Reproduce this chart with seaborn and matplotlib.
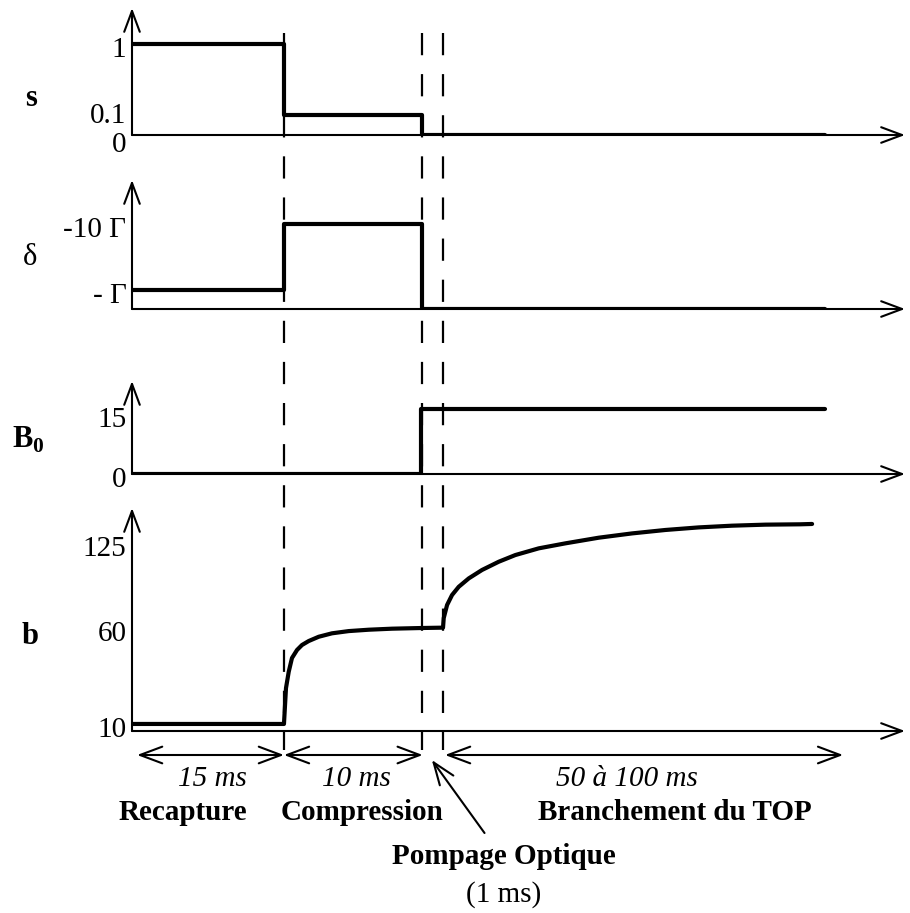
import numpy as np
import pandas as pd
import matplotlib
matplotlib.use("Agg")
import matplotlib.pyplot as plt
import matplotlib.transforms as mtransforms
import seaborn as sns

sns.set_theme(style="white")
plt.rcParams['font.family'] = ['Liberation Serif', 'DejaVu Serif']
plt.rcParams['mathtext.fontset'] = 'custom'
plt.rcParams['mathtext.rm'] = 'Liberation Serif'
plt.rcParams['mathtext.bf'] = 'Liberation Serif:bold'
plt.rcParams['text.color'] = 'black'
plt.rcParams['ytick.color'] = 'black'
plt.rcParams['axes.labelcolor'] = 'black'

# Echelle de temps schématique (unités du dessin, pas proportionnelles aux ms)
t_events = [15, 28.63, 30.7]     # compression, pompage optique, branchement du TOP
t_end = 68.4                     # fin des tracés
t_axis = 76.3                    # bout des flèches de l'axe des temps

# s : paramètre de saturation
s_t = [0, 15, 15, 28.63, 28.63, t_end]
s_val = [1.0, 1.0, 0.22, 0.22, 0.0, 0.0]
s_ticks = [0, 0.27, 1.0]
s_labels = ['0', '0.1', '1']

# delta : désaccord (hauteur schématique, en unités de Γ)
d_t = [0, 15, 15, 28.63, 28.63, t_end]
d_val = [2.24, 2.24, 10, 10, 0, 0]
d_ticks = [2.24, 10]
d_labels = ['- Γ', '-10 Γ']

# B0 : gradient de champ
B_t = [0, 28.5, 28.5, t_end]
B_val = [0, 0, 15, 15]
B_ticks = [0, 13.9]
B_labels = ['0', '15']

# b : paramètre du piège (courbe)
b_t = [0, 15.0, 15.2, 15.47, 15.79, 16.29, 16.78, 17.44, 18.43, 19.74, 21.39, 23.37,
       25.67, 28.63, 30.7, 30.77, 31.1, 31.59, 32.25, 33.24, 34.55, 36.2, 37.84,
       40.15, 42.77, 46.07, 49.36, 52.65, 55.94, 59.23, 62.52, 65.94, 67.13]
b_val = [4.1, 4.1, 25.0, 34.5, 42.5, 47.2, 50.1, 52.4, 54.9, 56.9, 58.2, 59.0,
         59.6, 60.0, 60.2, 65.8, 73.4, 79.2, 84.0, 88.9, 93.8, 98.6, 102.5,
         106.4, 109.3, 112.6, 115.1, 117.1, 118.6, 119.6, 120.2, 120.4, 120.6]
b_ticks = [4.1, 60, 109.5]
b_labels = ['10', '60', '125']

# durées des phases
phases = [(0.5, 15.0, '15 ms', 'Recapture', 7.9, 5.0),
          (15.0, 28.7, '10 ms', 'Compression', 22.2, 22.7),
          (30.9, 70.2, '50 à 100 ms', 'Branchement du TOP', 48.9, 53.6)]

W, H = 910, 913
px_per_t = 10.13
x0 = 132
fig = plt.figure(figsize=(W / 100, H / 100), dpi=100)

panels = [
    ('s', s_t, s_val, s_ticks, s_labels, 8, 135, 1.395),
    ('d', d_t, d_val, d_ticks, d_labels, 180, 309, 15.18),
    ('B', B_t, B_val, B_ticks, B_labels, 381, 474, 21.5),
    ('b', b_t, b_val, b_ticks, b_labels, 508, 731, 129.9),
]

axis_arrow = dict(arrowstyle='->,head_length=0.75,head_width=0.28', lw=1.5,
                  color='black', shrinkA=0, shrinkB=0, mutation_scale=20)
lbl_shift = mtransforms.ScaledTranslation(0, -3 / 100, fig.dpi_scale_trans)
zero_shift = mtransforms.ScaledTranslation(0, -4 / 100, fig.dpi_scale_trans)

for name, tt, vv, ticks, labels, top, base, ymax in panels:
    ax = fig.add_axes([x0 / W, 1 - base / H, (905 - x0) / W, (base - top) / H])
    df = pd.DataFrame({'t': tt, 'v': vv})
    sns.lineplot(data=df, x='t', y='v', ax=ax, color='black', lw=3.0,
                 sort=False, estimator=None, solid_joinstyle='round')
    ax.patch.set_visible(False)
    for sp in ax.spines.values():
        sp.set_visible(False)
    ax.set_xticks([])
    ax.set_yticks(ticks)
    ax.set_yticklabels(labels, fontsize=21)
    ax.set_xlim(0, t_axis)
    ax.set_ylim(0, ymax)
    ax.tick_params(axis='y', length=0, pad=4)
    for i, lab in enumerate(ax.get_yticklabels()):
        tr = lab.get_transform() + lbl_shift
        if name == 's' and i == 0:
            tr = tr + zero_shift   # le "0" est un peu sous le "0.1" dans l'original
        lab.set_transform(tr)
    ax.set_xlabel('')
    ax.set_ylabel('')
    ax.annotate('', xy=(0, 1), xytext=(0, 0), xycoords='axes fraction',
                arrowprops=axis_arrow, annotation_clip=False)
    ax.annotate('', xy=(1, 0), xytext=(0, 0), xycoords='axes fraction',
                arrowprops=axis_arrow, annotation_clip=False)

# calque de fond en unités de temps / pixels pour les pointillés et légendes
ax_bg = fig.add_axes([0, 0, 1, 1])
ax_bg.set_xlim(-x0 / px_per_t, (W - x0) / px_per_t)
ax_bg.set_ylim(H, 0)
ax_bg.axis('off')
ax_bg.patch.set_visible(False)

ax_bg.vlines(t_events, 33, 750, colors='black', lw=1.6, linestyles=(0, (10, 8.5)))

dbl = dict(arrowstyle='<->,head_length=0.8,head_width=0.3', lw=1.5,
           color='black', shrinkA=0, shrinkB=0, mutation_scale=20)
for a, b, dur, lab, xd, xl in phases:
    ax_bg.annotate('', xy=(b, 755), xytext=(a, 755), arrowprops=dbl)
    ax_bg.text(xd, 779, dur, ha='center', va='center', fontsize=21, style='italic')
    ax_bg.text(xl, 812, lab, ha='center', va='center', fontsize=21, fontweight='bold')

ax_bg.annotate('', xy=(29.6, 760), xytext=(34.8, 833),
               arrowprops=dict(arrowstyle='->,head_length=0.8,head_width=0.3', lw=1.5,
                               color='black', shrinkA=0, shrinkB=0, mutation_scale=20))
ax_bg.text(36.7, 857, 'Pompage Optique', ha='center', va='center', fontsize=21,
           fontweight='bold')
ax_bg.text(36.7, 895, '(1 ms)', ha='center', va='center', fontsize=21)

# noms des signaux à gauche
fig.text(31 / W, 1 - 98 / H, 's', ha='center', va='center', fontsize=22, fontweight='bold')
fig.text(30 / W, 1 - 257 / H, 'δ', ha='center', va='center', fontsize=22)
fig.text(28 / W, 1 - 440 / H, r'$\mathbf{B}_{\mathbf{0}}$', ha='center', va='center', fontsize=22)
fig.text(30 / W, 1 - 637 / H, 'b', ha='center', va='center', fontsize=22, fontweight='bold')

fig.savefig('out.png', dpi=100)
